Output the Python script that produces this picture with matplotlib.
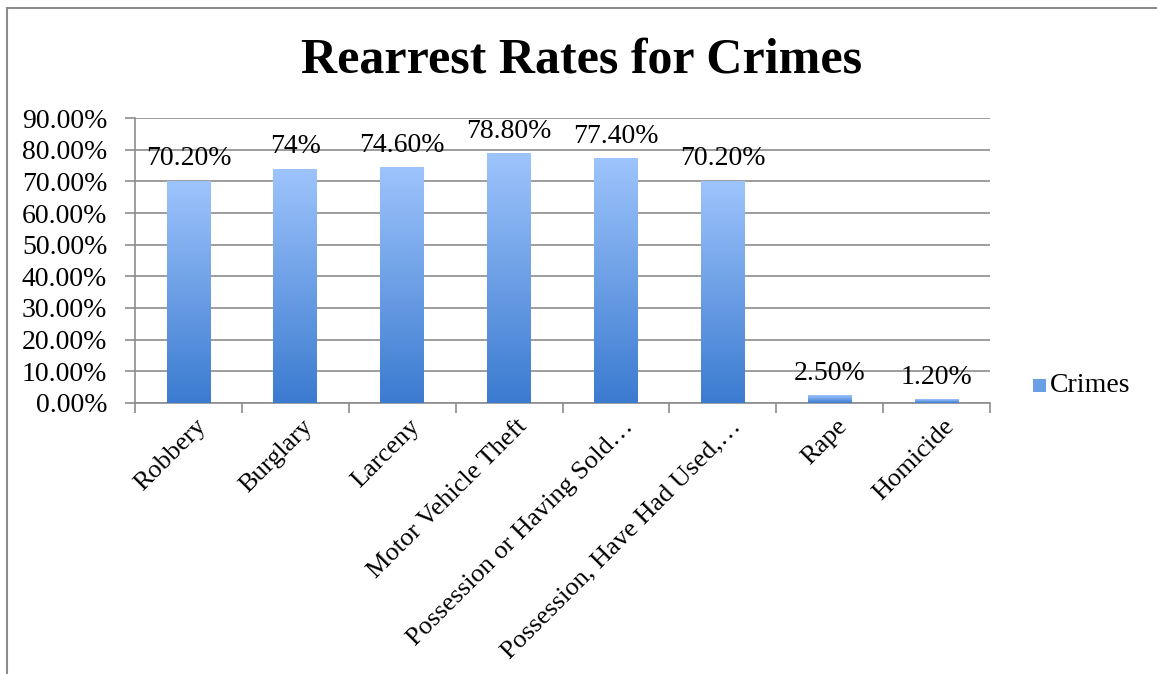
import numpy as np
import matplotlib.pyplot as plt
from matplotlib.patches import Rectangle
from matplotlib.colors import LinearSegmentedColormap

crimes = ['Robbery', 'Burglary', 'Larceny', 'Motor Vehicle Theft',
          'Possession or Having Sold\u2026', 'Possession, Have Had Used,\u2026',
          'Rape', 'Homicide']
rates = [70.2, 74.0, 74.6, 78.8, 77.4, 70.2, 2.5, 1.2]
labels = ['70.20%', '74%', '74.60%', '78.80%', '77.40%', '70.20%', '2.50%', '1.20%']
yticks = np.arange(0, 100, 10)

plt.rcParams['font.family'] = ['Liberation Serif', 'DejaVu Serif']

fig = plt.figure(figsize=(11.57, 6.74), dpi=100)
ax = fig.add_axes([0.1167, 0.4021, 0.7390, 0.4228])

grad = LinearSegmentedColormap.from_list('g', ['#3b7bd0', '#9ec4fc'])
x = np.arange(len(crimes))
w = 0.41
bars = ax.bar(x, rates, width=w, color='#6a9fe6', zorder=2)
for b in bars:
    x0 = b.get_x()
    im = ax.imshow(np.linspace(0, 1, 256).reshape(-1, 1), cmap=grad, origin='lower',
                   extent=[x0, x0 + b.get_width(), 0, max(b.get_height(), 0.01)],
                   aspect='auto', zorder=3)
    im.set_clip_path(b)
ax.set_xlim(-0.5, len(crimes) - 0.5)
ax.set_ylim(0, 90)

for xi, r, lab in zip(x, rates, labels):
    ax.annotate(lab, (xi, r), xytext=(0, 11), textcoords='offset points',
                ha='center', va='baseline', fontsize=20, zorder=4)

ax.set_yticks(yticks)
ax.set_yticklabels(['%.2f%%' % v for v in yticks], fontsize=20)
ax.yaxis.grid(True, color='#8c8c8c', lw=1.2, zorder=0)
ax.set_axisbelow(True)
ax.set_xticks(np.arange(-0.5, len(crimes), 1))
ax.set_xticklabels([])
ax.set_xticks(x + 0.06, minor=True)
ax.set_xticklabels(crimes, minor=True, rotation=45, ha='right', va='top',
                   rotation_mode='anchor', fontsize=19)
ax.tick_params(axis='x', which='minor', length=0, pad=9)
ax.tick_params(axis='x', which='major', length=7, color='#8c8c8c', width=1.2)
ax.tick_params(axis='y', length=7, color='#8c8c8c', width=1.2, pad=13)
for s in ['top', 'right']:
    ax.spines[s].set_visible(False)
for s in ['left', 'bottom']:
    ax.spines[s].set_color('#8c8c8c')
    ax.spines[s].set_linewidth(1.2)

fig.text(0.503, 0.91, 'Rearrest Rates for Crimes', ha='center', va='center',
         fontsize=36, fontweight='bold')

# legend
fig.patches.append(Rectangle((1033 / 1157, 1 - 392 / 674), 13 / 1157, 13 / 674,
                             transform=fig.transFigure, facecolor='#6a9fe6',
                             edgecolor='none'))
fig.text(1050 / 1157, 1 - 385 / 674, 'Crimes', ha='left', va='center', fontsize=20)

# chart border
fig.patches.append(Rectangle((7 / 1157, -0.1), 1.2, 1 - 8 / 674 + 0.1,
                             transform=fig.transFigure, fill=False,
                             edgecolor='#8c8c8c', lw=1.5))

fig.savefig('out.png', dpi=100)
